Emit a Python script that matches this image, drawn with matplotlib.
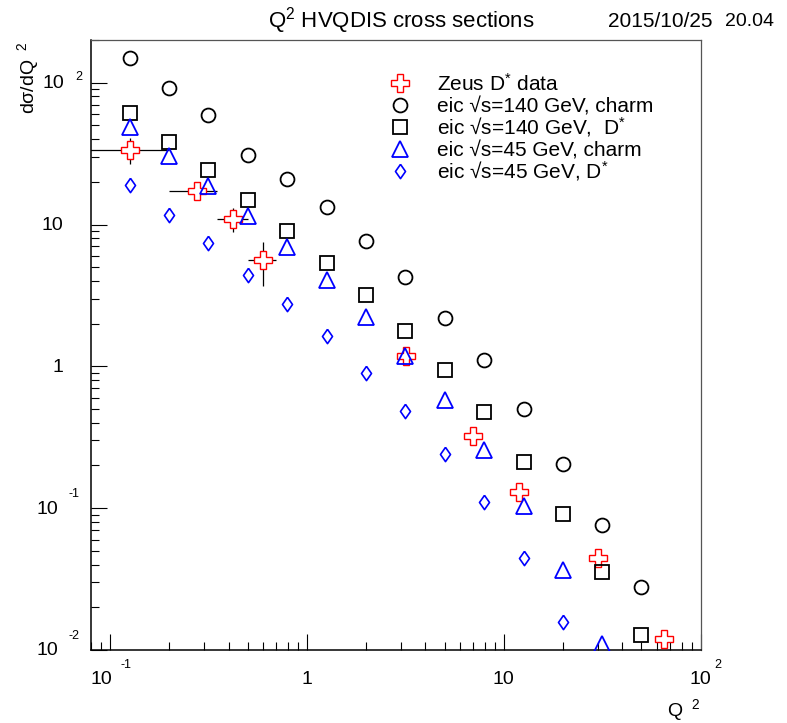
import matplotlib
matplotlib.use('Agg')
import matplotlib.pyplot as plt

plt.rcParams['font.family'] = ['Liberation Sans', 'DejaVu Sans']
plt.rcParams['mathtext.fontset'] = 'custom'
plt.rcParams['mathtext.rm'] = 'Liberation Sans'
plt.rcParams['mathtext.default'] = 'regular'

# Q^2 bin centres of the eic predictions
q2_bins = [0.126, 0.2, 0.316, 0.5, 0.794, 1.26, 2.0, 3.16, 5.0, 7.94, 12.6, 20.0, 31.6, 50.0]

# d sigma / dQ^2
eic140_charm = [149, 92, 59, 31, 21, 13.2, 7.6, 4.25, 2.2, 1.10, 0.50, 0.206, 0.076, 0.028]
eic140_dstar = [61.4, 37.9, 24.1, 14.9, 8.98, 5.37, 3.16, 1.78, 0.949, 0.474, 0.213, 0.0904, 0.0354, 0.0128]
eic45_charm = [48.9, 30.5, 18.8, 11.5, 6.93, 4.05, 2.23, 1.18, 0.577, 0.259, 0.103, 0.0364, 0.0111]
eic45_dstar = [19.0, 11.7, 7.36, 4.44, 2.74, 1.63, 0.898, 0.484, 0.242, 0.111, 0.0448, 0.0157]

# zeus D* measurement
zeus_q2 = [0.126, 0.275, 0.42, 0.60, 3.2, 7.0, 11.9, 30.0, 65.0]
zeus_q2_lo = [0.05, 0.2, 0.35, 0.5, 3.2, 7.0, 11.9, 30.0, 65.0]
zeus_q2_hi = [0.2, 0.35, 0.5, 0.7, 3.2, 7.0, 11.9, 30.0, 65.0]
zeus_xsec = [33.5, 17.3, 10.9, 5.61, 1.19, 0.321, 0.129, 0.0445, 0.0120]
zeus_err_dn = [7.0, 1.5, 2.1, 1.92, 0, 0, 0, 0, 0]
zeus_err_up = [7.4, 1.5, 2.1, 1.86, 0, 0, 0, 0, 0]

legend_labels = ['Zeus D$^{*}$ data',
                 'eic \u221As=140 GeV, charm',
                 'eic \u221As=140 GeV,  D$^{*}$',
                 'eic \u221As=45 GeV, charm',
                 'eic \u221As=45 GeV, D$^{*}$']

y_tick_vals = [0.01, 0.1, 1, 10, 100]
y_tick_base = ['10', '10', '1', '10', '10']
y_tick_exp = ['-2', '-1', '', '', '2']
x_tick_vals = [0.1, 1, 10, 100]
x_tick_base = ['10', '1', '10', '10']
x_tick_exp = ['-1', '', '', '2']

# open diamond like ROOT marker 27
diamond = [(0, 1), (0.7, 0), (0, -1), (-0.7, 0), (0, 1)]

styles = [
    dict(marker='P', ms=12.5, mfc='white', mec='red', mew=1.0),
    dict(marker='o', ms=10, mfc='none', mec='black', mew=1.3),
    dict(marker='s', ms=10, mfc='none', mec='black', mew=1.3),
    dict(marker='^', ms=11, mfc='none', mec='blue', mew=1.3),
    dict(marker=diamond, ms=10.3, mfc='none', mec='blue', mew=1.2),
]


def root_tick_labels(ax):
    # ROOT style "10  ^n" labels, exponent set apart from the base
    ytr = ax.get_yaxis_transform()
    for v, b, e in zip(y_tick_vals, y_tick_base, y_tick_exp):
        dx = -33 if e.startswith('-') else -27
        if not e:
            dx = -28
        ax.annotate(b, xy=(0, v), xycoords=ytr, xytext=(dx, -1), textcoords='offset pixels',
                    ha='right', va='center', fontsize=14)
        if e:
            up = 14 if e.startswith('-') else 6
            ax.annotate(e, xy=(0, v), xycoords=ytr, xytext=(dx + 11, up), textcoords='offset pixels',
                        ha='left', va='center', fontsize=9)
    xtr = ax.get_xaxis_transform()
    for v, b, e in zip(x_tick_vals, x_tick_base, x_tick_exp):
        shift = -9 if e.startswith('-') else 0
        ax.annotate(b, xy=(v, 0), xycoords=xtr, xytext=(shift, -30), textcoords='offset pixels',
                    ha='center', va='center', fontsize=14)
        if e:
            ex = 10 if e.startswith('-') else 14
            ax.annotate(e, xy=(v, 0), xycoords=xtr, xytext=(ex, -15), textcoords='offset pixels',
                        ha='left', va='center', fontsize=9)


def root_legend(ax, x_mark=0.507, x_text=0.568, y_top=0.9287, step=0.0357):
    # borderless legend, one row per entry like TLegend
    for i, (st, lab) in enumerate(zip(styles, legend_labels)):
        y = y_top - i * step
        ax.plot([x_mark], [y], transform=ax.transAxes, clip_on=False, ls='none', zorder=5, **st)
        ax.text(x_text, y - 0.0123, lab, transform=ax.transAxes, ha='left', va='baseline', fontsize=15)


def make_plot():
    fig = plt.figure(figsize=(7.87, 7.23), dpi=100)
    ax = fig.add_axes([0.1156, 0.1010, 0.7748, 0.8437])
    ax.set_xscale('log')
    ax.set_yscale('log')

    xerr = [[c - lo for c, lo in zip(zeus_q2, zeus_q2_lo)],
            [hi - c for c, hi in zip(zeus_q2, zeus_q2_hi)]]
    ax.errorbar(zeus_q2, zeus_xsec, xerr=xerr, yerr=[zeus_err_dn, zeus_err_up],
                fmt='none', ecolor='black', elinewidth=0.9, capsize=0, zorder=2)
    ax.plot(zeus_q2, zeus_xsec, ls='none', zorder=3, **styles[0])
    ax.plot(q2_bins, eic140_charm, ls='none', zorder=4, **styles[1])
    ax.plot(q2_bins, eic140_dstar, ls='none', zorder=4, **styles[2])
    ax.plot(q2_bins[:len(eic45_charm)], eic45_charm, ls='none', zorder=4, **styles[3])
    ax.plot(q2_bins[:len(eic45_dstar)], eic45_dstar, ls='none', zorder=4, **styles[4])

    ax.set_xlim(0.08, 100)
    ax.set_ylim(0.01, 200)

    ax.tick_params(which='both', direction='in', top=False, right=False,
                   labelbottom=False, labelleft=False, color='black', width=0.8)
    ax.tick_params(which='major', length=11.5)
    ax.tick_params(which='minor', length=6)
    for s in ['left', 'bottom']:
        ax.spines[s].set_linewidth(1.1)
        ax.spines[s].set_color('black')
    for s in ['top', 'right']:
        ax.spines[s].set_linewidth(0.9)
        ax.spines[s].set_color('#555555')

    root_tick_labels(ax)
    root_legend(ax)

    fig.text(0.510, 0.971, 'Q$^{2}$ HVQDIS cross sections', ha='center', va='center', fontsize=16)
    fig.text(0.7726, 0.970, '2015/10/25', ha='left', va='center', fontsize=15)
    fig.text(0.9835, 0.970, '20.04', ha='right', va='center', fontsize=14)
    fig.text(0.036, 0.9423, 'd\u03c3/dQ$^{\\ \\ 2}$', rotation=90, ha='center', va='top', fontsize=14)
    fig.text(0.8897, 0.036, 'Q$^{\\ \\ 2}$', ha='right', va='top', fontsize=14)

    fig.savefig('out.png', dpi=100)


if __name__ == "__main__":
    make_plot()
